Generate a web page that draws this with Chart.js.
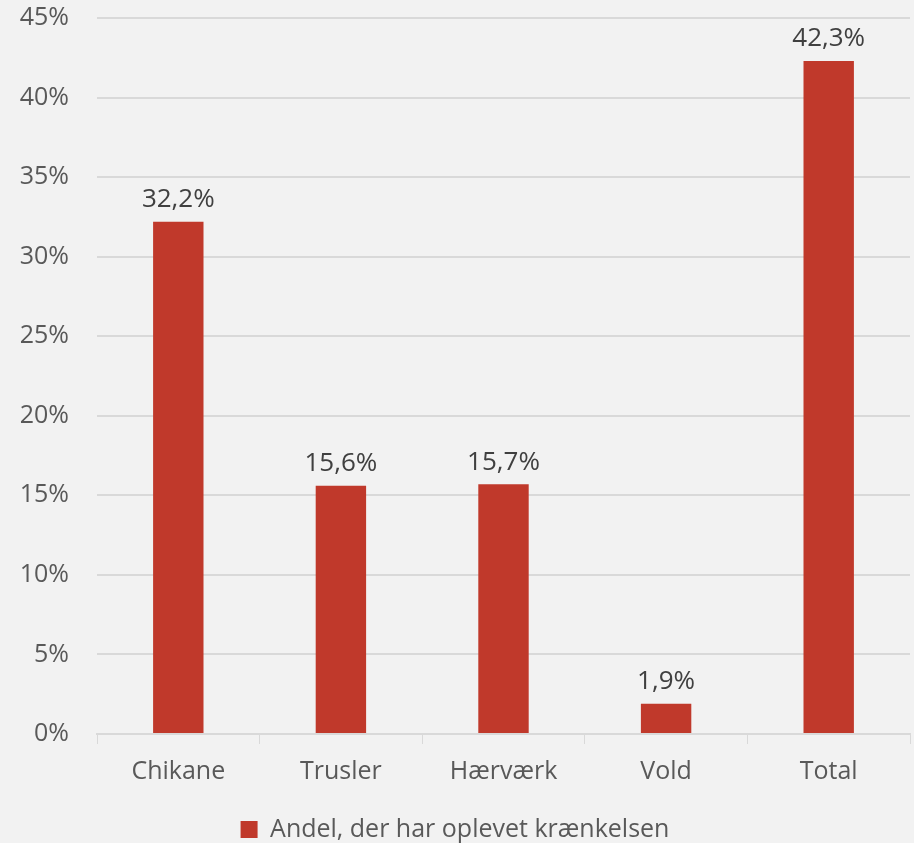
<!DOCTYPE html>
<html>
<head>
<meta charset="utf-8">
<script src="https://cdn.jsdelivr.net/npm/chart.js@4/dist/chart.umd.min.js"></script>
<style>
  html, body { margin: 0; padding: 0; background: #f2f2f2; }
  #wrap { width: 914px; height: 843px; }
</style>
</head>
<body>
<div id="wrap"><canvas id="chart" width="914" height="843"></canvas></div>
<script>
const categories = ['Chikane', 'Trusler', 'Hærværk', 'Vold', 'Total'];
const shares = [32.2, 15.6, 15.7, 1.9, 42.3];
const seriesLabel = 'Andel, der har oplevet krænkelsen';

const FONT = "'Open Sans', 'Liberation Sans', sans-serif";
const fmt = v => v.toFixed(1).replace('.', ',') + '%';

const valueLabels = {
    id: 'valueLabels',
    afterDatasetsDraw(chart) {
        const ctx = chart.ctx;
        const meta = chart.getDatasetMeta(0);
        ctx.save();
        ctx.font = '26px ' + FONT;
        ctx.fillStyle = '#404040';
        ctx.textAlign = 'center';
        ctx.textBaseline = 'bottom';
        meta.data.forEach((bar, i) => {
            ctx.fillText(fmt(shares[i]), bar.x, bar.y - 9);
        });
        ctx.restore();
    }
};

const bg = {
    id: 'bg',
    beforeDraw(chart) {
        const ctx = chart.ctx;
        ctx.save();
        ctx.fillStyle = '#f2f2f2';
        ctx.fillRect(0, 0, chart.width, chart.height);
        ctx.restore();
    }
};

new Chart(document.getElementById('chart'), {
    type: 'bar',
    data: {
        labels: categories,
        datasets: [{
            label: seriesLabel,
            data: shares,
            backgroundColor: '#c0392b',
            categoryPercentage: 1,
            barPercentage: 0.31,
        }],
    },
    options: {
        responsive: false,
        animation: false,
        layout: { padding: { top: 18, right: 4, bottom: -9, left: 0 } },
        plugins: {
            legend: {
                position: 'bottom',
                labels: {
                    font: { size: 25, family: FONT },
                    color: '#595959',
                    boxWidth: 17,
                    boxHeight: 17,
                    padding: 2,
                },
            },
            tooltip: { enabled: false },
        },
        scales: {
            x: {
                grid: { display: true, drawOnChartArea: false, color: '#d9d9d9', tickLength: 10, offset: true },
                border: { color: '#d9d9d9', width: 2 },
                ticks: { font: { size: 25, family: FONT }, color: '#595959', padding: 13 },
                afterFit(scale) { scale.height = 81; },
            },
            y: {
                min: 0,
                max: 45,
                ticks: {
                    stepSize: 5,
                    callback: v => v + '%',
                    font: { size: 25, family: FONT },
                    color: '#595959',
                    padding: 28,
                },
                grid: { color: '#d9d9d9', lineWidth: 2, drawTicks: false },
                border: { display: false },
                afterFit(scale) { scale.width = 97; scale.paddingTop = 0; scale.paddingBottom = 0; },
            },
        },
    },
    plugins: [bg, valueLabels],
});
</script>
</body>
</html>
